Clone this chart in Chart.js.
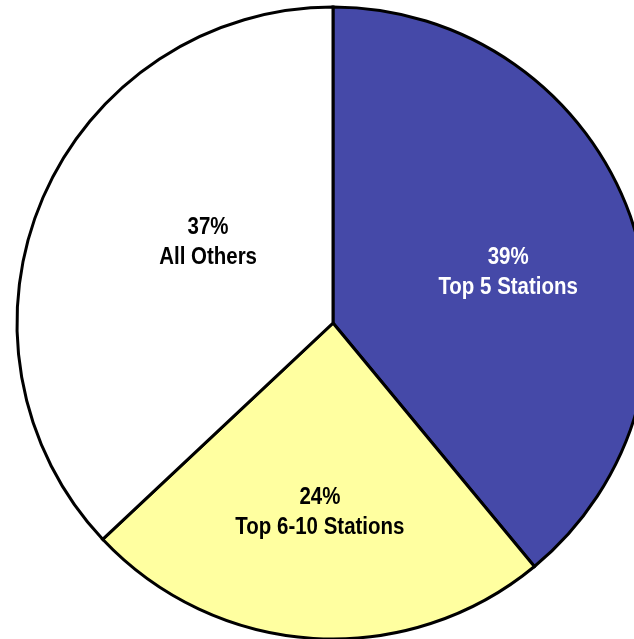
<!DOCTYPE html>
<html>
<head>
<meta charset="utf-8">
<script src="https://cdn.jsdelivr.net/npm/chart.js@4"></script>
<style>
  html, body { margin: 0; padding: 0; background: #fff; overflow: hidden; }
  #wrap { position: absolute; left: 0; top: 0; width: 666px; height: 646px; }
</style>
</head>
<body>
<div id="wrap"><canvas id="myChart" width="666" height="646"></canvas></div>
<script>
const categories = ["Top 5 Stations", "Top 6-10 Stations", "All Others"];
const shares = [39, 24, 37];
const sliceColors = ["#4549a8", "#ffffa0", "#ffffff"];
const labelColors = ["#ffffff", "#000000", "#000000"];

// how far out along the radius each label sits, plus a small angle nudge (deg)
const labelRadius = [0.578, 0.596, 0.473];
const labelTurn = [3.3, 0.4, 9.9];

const sliceLabels = {
  id: "sliceLabels",
  afterDatasetsDraw(chart) {
    const ctx = chart.ctx;
    const meta = chart.getDatasetMeta(0);
    ctx.save();
    ctx.font = "bold 23px 'Liberation Sans', Arial, sans-serif";
    ctx.textAlign = "center";
    ctx.textBaseline = "middle";
    meta.data.forEach((arc, i) => {
      const p = arc.getProps(["x", "y", "startAngle", "endAngle", "outerRadius"], true);
      const mid = (p.startAngle + p.endAngle) / 2 + labelTurn[i] * Math.PI / 180;
      const r = p.outerRadius * labelRadius[i];
      const x = p.x + Math.cos(mid) * r;
      const y = p.y + Math.sin(mid) * r;
      ctx.fillStyle = labelColors[i];
      // narrow the glyphs a little, like a condensed face
      ctx.save();
      ctx.translate(x, y);
      ctx.scale(0.89, 1);
      ctx.fillText(shares[i] + "%", 0, -13);
      ctx.fillText(categories[i], 0, 17);
      ctx.restore();
    });
    ctx.restore();
  }
};

const myChart = document.getElementById("myChart");

let pieChart = new Chart(myChart, {
  type: "pie",
  data: {
    labels: categories,
    datasets: [{
      data: shares,
      backgroundColor: sliceColors,
      borderColor: "#000000",
      borderWidth: 3,
      borderJoinStyle: "miter"
    }]
  },
  options: {
    responsive: false,
    animation: false,
    radius: 316,
    layout: { padding: 0 },
    plugins: {
      legend: { display: false },
      tooltip: { enabled: false }
    }
  },
  plugins: [sliceLabels]
});
</script>
</body>
</html>
